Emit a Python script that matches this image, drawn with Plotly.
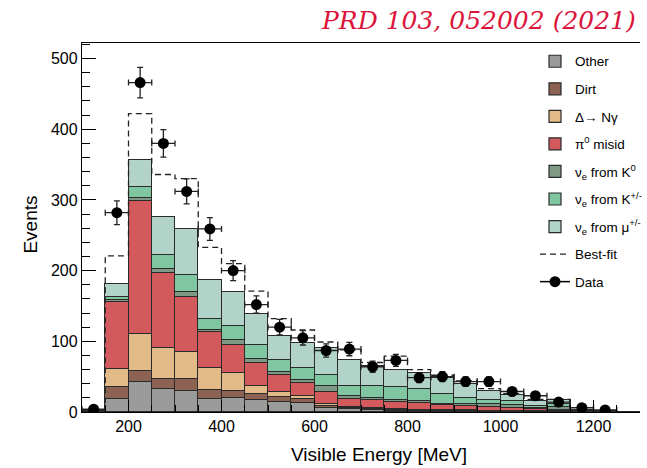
import numpy as np
import plotly.graph_objects as go

# ---------------- data ----------------
bin_edges = [100, 150, 200, 250, 300, 350, 400, 450, 500, 550, 600, 650, 700,
             750, 800, 850, 900, 950, 1000, 1050, 1100, 1150, 1200, 1250, 1300]

other = [0.5, 19, 42, 33, 30, 18, 20, 17, 14, 13, 5.2, 3.8, 2.8, 2, 1.5, 1.2, 1, 0.8, 0.7, 0.5, 0.5, 0.3, 0.2, 0.1]
dirt = [0.5, 17, 16, 13, 17, 13, 10, 8, 7, 5, 3.3, 1.4, 1.2, 1, 1, 0.8, 0.8, 0.7, 0.5, 0.5, 0.3, 0.2, 0.1, 0]
delta_ngamma = [0.3, 25, 52, 44, 38, 31, 25, 12, 8, 5, 2.5, 1.4, 1.5, 1, 0.5, 0.5, 0.5, 0.5, 0.4, 0.3, 0.2, 0.1, 0.1, 0]
pi0_misid = [0.5, 94, 188, 107, 78, 51, 40, 33, 23, 18, 18, 12.4, 11.5, 10.6, 10, 7.5, 6.2, 4.6, 4.4, 2.5, 1.8, 0.4, 0.2, 0.1]
nue_k0 = [0.1, 3, 5, 5, 7, 3, 7, 5, 5, 4, 8, 4, 3, 2.4, 2.5, 2, 2.8, 4.7, 3.9, 2.2, 3.8, 0.8, 0.3, 0.1]
nue_kpm = [0.1, 4, 15, 20, 24, 15, 19, 20, 17, 17, 15, 14, 17, 19, 17.5, 13, 8, 5.7, 5.6, 2.5, 4.7, 0.4, 0.2, 0.1]
nue_mu = [0.2, 19, 39, 54, 65, 56, 49, 44, 34, 36, 38, 36, 28, 23, 22.5, 23.5, 19.7, 13, 8.5, 7, 5.7, 0.6, 0.2, 0.1]

best_fit = [3, 221, 422, 336, 330, 233, 210, 171, 132, 116, 99, 88, 70, 79, 60, 52, 44, 33, 26, 18, 18, 3.2, 1.5, 0.6]

data_counts = [4, 282, 466, 380, 312, 259, 200, 152, 120, 105, 87, 89, 64, 73, 48.5, 50, 43, 43, 29, 23, 14, 6, 3]

x_ticks = [200, 400, 600, 800, 1000, 1200]

components = [
    ("Other", other, "#9b9b9b"),
    ("Dirt", dirt, "#8c6252"),
    ("\u0394\u2192 N\u03b3", delta_ngamma, "#e2bb88"),
    ("\u03c0<sup>0</sup> misid", pi0_misid, "#d25a5c"),
    ("\u03bd<sub>e</sub> from K<sup>0</sup>", nue_k0, "#7e9a86"),
    ("\u03bd<sub>e</sub> from K<sup>+/-</sup>", nue_kpm, "#80c6a0"),
    ("\u03bd<sub>e</sub> from \u03bc<sup>+/-</sup>", nue_mu, "#b2d3c8"),
]

edges = np.array(bin_edges, dtype=float)
centers = (edges[:-1] + edges[1:]) / 2
widths = edges[1:] - edges[:-1]

fig = go.Figure()

for i, (name, vals, col) in enumerate(components):
    fig.add_trace(go.Bar(
        x=centers, y=vals, width=widths, name=name,
        marker=dict(color=col, line=dict(color="#2a2a2a", width=1.2)),
        legendgroup=f"g{i}",
    ))

# best-fit dashed histogram
bf_y = list(best_fit) + [best_fit[-1]]
fig.add_trace(go.Scatter(
    x=edges, y=bf_y, mode="lines", line_shape="hv", name="Best-fit",
    line=dict(color="#222222", width=1.3, dash="6px,4px"),
    legendgroup="g7",
))

# data points
n_data = len(data_counts)
d_x = centers[:n_data]
d_err = np.sqrt(np.array(data_counts, dtype=float))
fig.add_trace(go.Scatter(
    x=d_x, y=data_counts, mode="markers", showlegend=False,
    marker=dict(color="black", size=11),
    error_x=dict(type="data", array=widths[:n_data] / 2, color="#222222", thickness=1.3, width=3),
    error_y=dict(type="data", array=d_err, color="#222222", thickness=1.3, width=3),
))
fig.add_trace(go.Scatter(
    x=[None], y=[None], mode="lines+markers", name="Data",
    marker=dict(color="black", size=11), line=dict(color="black", width=1.5),
    legendgroup="g8",
))

font_family = "Liberation Sans, Arial, Helvetica, sans-serif"

fig.update_layout(
    width=647, height=468,
    margin=dict(l=82, r=0, t=43, b=56),
    plot_bgcolor="white", paper_bgcolor="white",
    barmode="stack", bargap=0,
    font=dict(family=font_family, color="black"),
    legend=dict(
        x=0.812, y=0.992, xanchor="left", yanchor="top",
        bgcolor="rgba(255,255,255,0)", font=dict(size=13.5, family=font_family),
        traceorder="grouped", tracegroupgap=7, itemwidth=30,
    ),
    xaxis=dict(
        range=[100, 1300], tickvals=x_ticks, ticks="inside", ticklen=12,
        tickwidth=1, tickcolor="black", showline=True, linecolor="black",
        linewidth=1.3, mirror=True, showgrid=False, zeroline=False,
        tickfont=dict(size=16),
        minor=dict(dtick=50, tick0=100, ticks="inside", ticklen=7, tickcolor="black", showgrid=False),
    ),
    yaxis=dict(
        range=[0, 522], dtick=100, ticks="inside", ticklen=14,
        tickwidth=1, tickcolor="black", showline=True, linecolor="black",
        linewidth=1.3, mirror=False, showgrid=False, zeroline=False,
        tickfont=dict(size=16),
        minor=dict(dtick=20, ticks="inside", ticklen=8, tickcolor="black", showgrid=False),
    ),
    annotations=[
        dict(text="Visible Energy [MeV]", xref="paper", yref="paper",
             x=0.533, y=-0.1165, xanchor="center", yanchor="middle",
             showarrow=False, font=dict(size=19, family=font_family)),
        dict(text="Events", xref="paper", yref="paper",
             x=-0.092, y=0.507, xanchor="center", yanchor="middle", textangle=-90,
             showarrow=False, font=dict(size=19, family=font_family)),
        dict(text="<i>PRD 103, 052002 (2021)</i>", xref="paper", yref="paper",
             x=0.997, y=1.062, xanchor="right", yanchor="middle",
             showarrow=False, font=dict(size=25, family="DejaVu Serif", color="crimson")),
    ],
)

fig.write_html("out.html")
